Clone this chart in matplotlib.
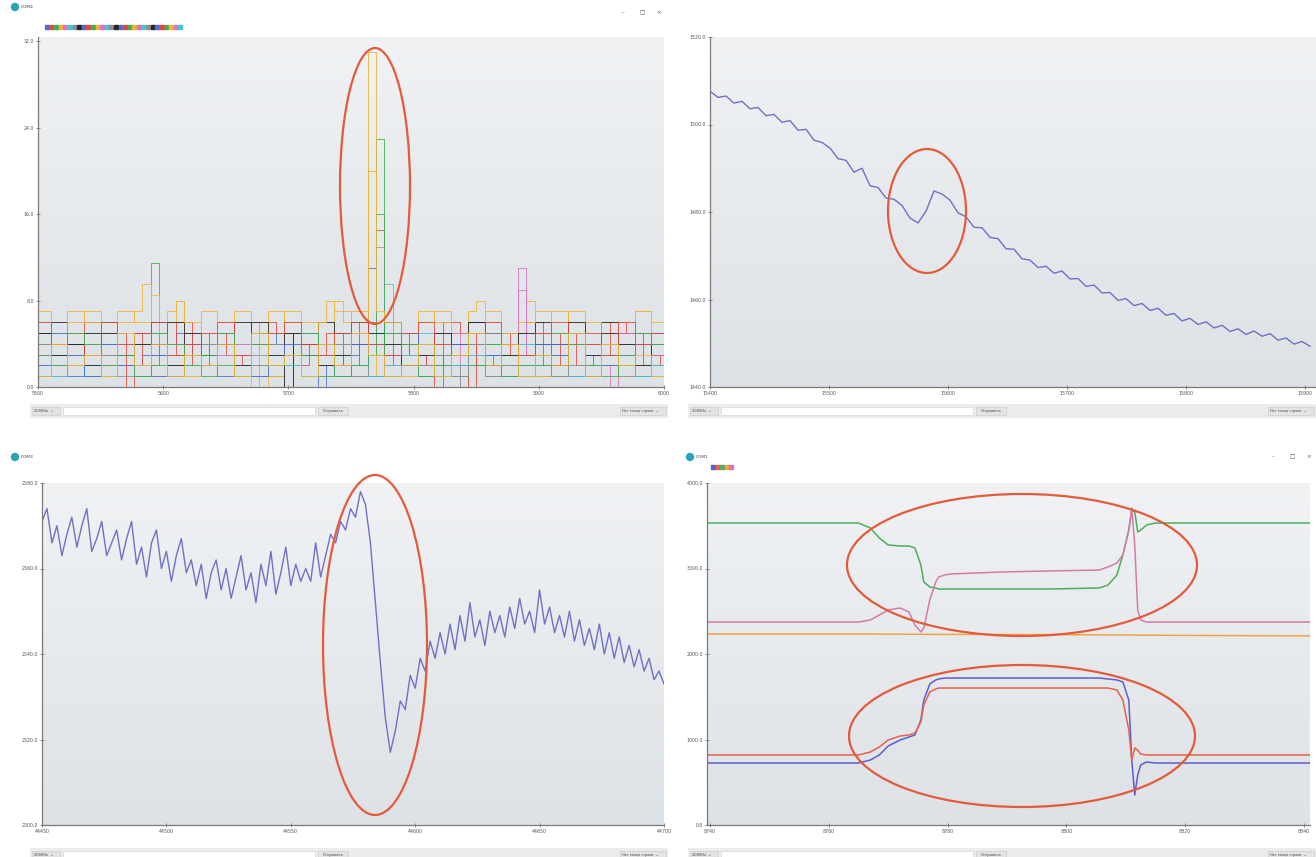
import numpy as np
import matplotlib.pyplot as plt
from matplotlib.patches import Ellipse, Rectangle, Circle
from matplotlib.colors import LinearSegmentedColormap

W, H = 1316, 857

# --- top left: many noisy channels (digit = reading at that sample) ---
tl_channels = [
    "3344553344222334455334443322455334422334455543322344553322443355442233445533",
    "5522336622555223366225533226655223355226622553322665522335566225522336655223",
    "1122331144221133112244331122113344221122331144112233221144331122114433221133",
    "6611776611667711681177661166117766118677116611776611667711681177661166117766",
    "2244332255442233445522334422553344223355442233224455332244335522443322554433",
    "4455225544334455225544334422554455334422554433554422445533442255443355224455",
    "3311223311442233113322441133223311442211332244113322331144223311224433112233",
    "5566445566335544665533446655445533665544336655443355665544336644553366554433",
    "2233112244332211334422113322443311223344112233441122443311332244113322441122",
    "4433554433224455334422553344225544332255443344225533442255334422554433225544",
    "1133221133441122334411223311442233114422331122443311224433112233441133221144",
    "7755667755776655786655667755776655687755776655667755786655667755776655667755",
    "3344223355442233445522334422553344223355442233224455332244335522443322554433",
    "2211332211442233112233441122332211443322112233441122332211443322112244331122",
    "4422554433114455223344551122443355224411334455223311445522334411553322444411",
    "5533442255334466225533442266335544223366554422335544662233554422663355442255",
    "2255331144225533114422553311224455331122443355112244553311224433551122334455",
    "6644553366445566334455663344556644335566443355664433556644335566445533664455",
    "3322554422331155442233551144223355441122335544112233554411223355442211335544",
    "1144223311552244113322441155223311442255331122441133552244113322551144223311",
]
tl_colors = ["#4d6fd4", "#e2483c", "#3fb04e", "#f0b432", "#de72bd", "#47c3d6", "#8f8f8f", "#262626"]
# spikes and drop-outs: x position, channel, value
tl_event_x = [5770, 5767, 5772, 5774, 5772, 5775, 5770, 5777, 5591, 5589, 5889, 5886, 5596,
              5573, 5673, 5679, 5699, 5703, 5729, 5823, 5837, 5841, 5848, 5963]
tl_event_ch = [3, 11, 2, 10, 1, 4, 0, 5, 2, 3, 4, 12, 11,
               1, 3, 11, 7, 6, 0, 1, 4, 6, 9, 12]
tl_event_val = [31.0, 20.0, 23.0, 16.0, 14.5, 13.0, 11.0, 9.5, 11.5, 9.5, 11.0, 9.0, 8.5,
                0, 0, 0, 0, 0, 0, 0, 0, 0, 0, 0]
tl_xticks = [5500, 5600, 5700, 5800, 5900, 6000]
tl_yticks = [0, 8, 16, 24, 32]

# --- top right: slowly falling signal ---
tr_x0, tr_step = 15400, 6.72
tr_vals = [1507.6, 1506.2, 1506.5, 1504.9, 1505.3, 1503.6, 1503.9, 1502.0, 1502.3, 1500.5,
           1500.9, 1498.7, 1498.9, 1496.4, 1495.9, 1494.6, 1492.2, 1491.8, 1489.1, 1490.0,
           1486.0, 1485.6, 1483.2, 1482.9, 1481.5, 1478.6, 1477.5, 1480.2, 1484.8, 1484.1,
           1482.7, 1479.8, 1478.9, 1476.5, 1476.4, 1474.2, 1473.9, 1471.6, 1471.5, 1469.3,
           1469.0, 1467.3, 1467.6, 1466.0, 1466.5, 1464.7, 1464.8, 1463.0, 1463.3, 1461.5,
           1461.6, 1459.8, 1460.2, 1458.6, 1459.1, 1457.5, 1458.0, 1456.4, 1456.8, 1455.1,
           1455.7, 1454.3, 1454.9, 1453.5, 1454.1, 1452.7, 1453.3, 1452.0, 1452.8, 1451.6,
           1452.2, 1450.7, 1451.2, 1449.8, 1450.4, 1449.3]
tr_xticks = [15400, 15500, 15600, 15700, 15800, 15900]
tr_yticks = [1440, 1460, 1480, 1500, 1520]

# --- bottom left: jumpy signal with a sharp drop ---
bl_x0, bl_step = 44450, 2
bl_vals = [2571, 2574, 2566, 2570, 2563, 2568, 2572, 2565, 2570, 2574,
           2564, 2567, 2571, 2563, 2566, 2569, 2562, 2567, 2571, 2561,
           2565, 2558, 2566, 2569, 2560, 2564, 2557, 2563, 2567, 2559,
           2562, 2556, 2561, 2553, 2559, 2562, 2555, 2560, 2553, 2558,
           2563, 2555, 2559, 2552, 2561, 2556, 2564, 2554, 2559, 2565,
           2556, 2561, 2557, 2560, 2557, 2566, 2558, 2563, 2568, 2566,
           2571, 2569, 2574, 2572, 2578, 2575, 2566, 2552, 2538, 2525,
           2517, 2522, 2529, 2527, 2535, 2532, 2539, 2536, 2543, 2539,
           2545, 2540, 2547, 2541, 2549, 2543, 2552, 2544, 2548, 2542,
           2550, 2545, 2549, 2544, 2551, 2546, 2553, 2547, 2550, 2545,
           2555, 2547, 2551, 2545, 2549, 2544, 2550, 2543, 2548, 2542,
           2546, 2541, 2547, 2540, 2545, 2539, 2544, 2538, 2542, 2537,
           2541, 2536, 2539, 2534, 2536, 2533]
bl_xticks = [44450, 44500, 44550, 44600, 44650, 44700]
bl_yticks = [2500, 2520, 2540, 2560, 2580]

# --- bottom right: five channels, step response ---
br_x = [8739.5, 8765, 8767, 8768.5, 8770, 8772, 8773.5, 8774.5, 8775.5, 8776,
        8777, 8778, 8778.5, 8779.5, 8780.5, 8789, 8797, 8805.5, 8807, 8808.5,
        8809.5, 8810.5, 8811, 8811.5, 8812, 8812.5, 8813.5, 8815, 8817.5, 8841]
br_blue = [725, 725, 760, 819, 924, 994, 1029, 1053, 1228, 1462,
           1649, 1696, 1708, 1719, 1719, 1719, 1719, 1719, 1708, 1696,
           1673, 1462, 760, 351, 585, 702, 737, 725, 725, 725]
br_red = [819, 819, 854, 912, 994, 1041, 1053, 1076, 1205, 1404,
          1556, 1591, 1602, 1602, 1602, 1602, 1602, 1602, 1602, 1579,
          1462, 1111, 760, 901, 877, 830, 819, 819, 819, 819]
br_green = [3532, 3532, 3474, 3357, 3275, 3263, 3263, 3240, 3041, 2842,
            2784, 2772, 2760, 2760, 2760, 2760, 2760, 2772, 2807, 2924,
            3158, 3450, 3684, 3661, 3427, 3450, 3509, 3532, 3532, 3532]
br_orange = [2234, 2234, 2233, 2233, 2232, 2232, 2231, 2231, 2231, 2230,
             2230, 2230, 2229, 2229, 2229, 2228, 2226, 2224, 2223, 2223,
             2222, 2222, 2222, 2221, 2221, 2221, 2220, 2220, 2218, 2212]
br_pink = [2374, 2374, 2398, 2456, 2515, 2538, 2491, 2339, 2257, 2304,
           2632, 2842, 2901, 2924, 2936, 2959, 2971, 2982, 3018, 3064,
           3158, 3450, 3708, 3275, 2515, 2398, 2374, 2374, 2374, 2374]
br_colors = ["#5a5ed0", "#e8604c", "#4caf5a", "#f2a244", "#d67aa8"]
br_xticks = [8740, 8760, 8780, 8800, 8820, 8840]
br_yticks = [0, 1000, 2000, 3000, 4000]

line_blue = "#7070c4"
ring = "#e55a3b"


def rect(x0, y0, x1, y1):
    return [x0 / W, 1 - y1 / H, (x1 - x0) / W, (y1 - y0) / H]


def setup(ax, xlim, ylim, xticks, yticks, fmt_x, fmt_y):
    ax.set_xlim(*xlim)
    ax.set_ylim(*ylim)
    grad = LinearSegmentedColormap.from_list("g", ["#dde2e6", "#f0f2f4"])
    ax.imshow(np.linspace(0, 1, 256).reshape(-1, 1), cmap=grad, aspect="auto",
              extent=(xlim[0], xlim[1], ylim[0], ylim[1]), origin="lower", zorder=0)
    ax.set_xlim(*xlim)
    ax.set_ylim(*ylim)
    for s in ["top", "right"]:
        ax.spines[s].set_visible(False)
    for s in ["left", "bottom"]:
        ax.spines[s].set_color("#7a7a7a")
        ax.spines[s].set_linewidth(0.9)
    ax.set_xticks(xticks)
    ax.set_yticks(yticks)
    ax.set_xticklabels([fmt_x(v) for v in xticks])
    ax.set_yticklabels([fmt_y(v) for v in yticks])
    ax.tick_params(labelsize=3.4, labelcolor="#555555", color="#777777",
                   length=3, width=0.6, direction="inout", pad=1.5)


fig = plt.figure(figsize=(W / 100, H / 100), dpi=100)
fig.patch.set_facecolor("white")

# top left
ax1 = fig.add_axes(rect(38, 37, 664, 387))
setup(ax1, (5500, 6000), (0, 32.4), tl_xticks, tl_yticks, lambda v: f"{v}", lambda v: f"{v:.1f}")
for k, s in enumerate(tl_channels):
    vals = np.array([float(c) for c in s])
    xs = np.linspace(5500, 6000, len(vals))
    for ex, ch, ev in zip(tl_event_x, tl_event_ch, tl_event_val):
        if ch == k:
            vals[np.argmin(np.abs(xs - ex))] = ev
    ax1.plot(xs, vals, color=tl_colors[k % len(tl_colors)], lw=0.7,
             drawstyle="steps-mid", zorder=2, alpha=0.85)

# top right
ax2 = fig.add_axes(rect(710, 37, 1316, 387))
setup(ax2, (15400, 15909), (1440, 1520), tr_xticks, tr_yticks, lambda v: f"{v}", lambda v: f"{v:.1f}")
tr_x = tr_x0 + tr_step * np.arange(len(tr_vals))
ax2.plot(tr_x, tr_vals, color=line_blue, lw=1.0, zorder=2)

# bottom left
ax3 = fig.add_axes(rect(42, 483, 664, 825))
setup(ax3, (44450, 44700), (2500, 2580), bl_xticks, bl_yticks, lambda v: f"{v}", lambda v: f"{v:.1f}")
bl_x = bl_x0 + bl_step * np.arange(len(bl_vals))
ax3.plot(bl_x, bl_vals, color=line_blue, lw=1.0, zorder=2)

# bottom right
ax4 = fig.add_axes(rect(707, 483, 1310, 825))
setup(ax4, (8739.5, 8841), (0, 4000), br_xticks, br_yticks, lambda v: f"{v}", lambda v: f"{v:.1f}")
for series, col in zip([br_blue, br_red, br_green, br_orange, br_pink], br_colors):
    ax4.plot(br_x, series, color=col, lw=1.1, zorder=2)

# window chrome and highlight rings
ov = fig.add_axes([0, 0, 1, 1], zorder=10)
ov.set_xlim(0, W)
ov.set_ylim(H, 0)
ov.axis("off")
ov.patch.set_alpha(0)

# title bars
for (cx, cy, name) in [(15, 7, "COM4"), (15, 457, "COM3"), (690, 457, "COM1")]:
    ov.add_patch(Circle((cx, cy), 3.5, color="#2aa5b8"))
    ov.text(cx + 6, cy, name, fontsize=3.2, va="center", color="#444444")
for (rx, ry) in [(622, 13), (1272, 457)]:
    ov.text(rx, ry, "–", fontsize=4, va="center", color="#555555")
    ov.text(rx + 17, ry, "□", fontsize=4, va="center", color="#555555")
    ov.text(rx + 34, ry, "×", fontsize=4, va="center", color="#555555")

# legend squares
for i in range(30):
    ov.add_patch(Rectangle((45 + i * 4.6, 25), 3.8, 4, color=tl_colors[i % len(tl_colors)]))
for i, col in enumerate(br_colors):
    ov.add_patch(Rectangle((711 + i * 4.6, 465), 3.8, 4, color=col))

# bottom tool bars
for (x0, x1, y0) in [(30, 668, 404), (688, 1316, 404), (30, 668, 848), (688, 1316, 848)]:
    ov.add_patch(Rectangle((x0, y0), x1 - x0, 14, color="#ececec", lw=0))
    ov.add_patch(Rectangle((x0 + 2, y0 + 3), 28, 8, facecolor="#e2e2e2", edgecolor="#c8c8c8", lw=0.4))
    ov.text(x0 + 4, y0 + 7, "2000Hz  ⌄", fontsize=2.6, va="center", color="#444444")
    ov.add_patch(Rectangle((x0 + 33, y0 + 3), 252, 8, facecolor="white", edgecolor="#d0d0d0", lw=0.4))
    ov.add_patch(Rectangle((x0 + 288, y0 + 3), 30, 8, facecolor="#e4e4e4", edgecolor="#c8c8c8", lw=0.4))
    ov.text(x0 + 303, y0 + 7, "Отправить", fontsize=2.6, va="center", ha="center", color="#444444")
    ov.add_patch(Rectangle((x1 - 48, y0 + 3), 46, 8, facecolor="#e4e4e4", edgecolor="#c8c8c8", lw=0.4))
    ov.text(x1 - 46, y0 + 7, "Нет конца строки  ⌄", fontsize=2.4, va="center", color="#444444")

# red highlight ellipses
for (cx, cy, w, h) in [(375, 186, 70, 276), (927, 211, 78, 124), (375, 645, 104, 340),
                       (1022, 565, 350, 142), (1022, 736, 346, 142)]:
    ov.add_patch(Ellipse((cx, cy), w, h, fill=False, edgecolor=ring, lw=1.6))

fig.savefig("out.png", dpi=100)
